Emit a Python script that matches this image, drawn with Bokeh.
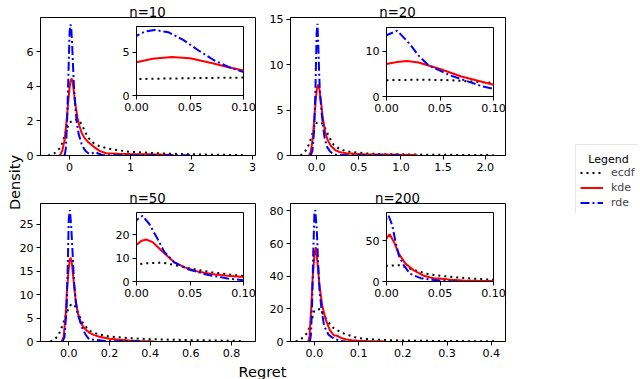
from math import pi
from bokeh.plotting import figure
from bokeh.models import Range1d, FixedTicker, Legend, LegendItem, Label, Column, PrintfTickFormatter
from bokeh.embed import file_html
from bokeh.resources import INLINE

# ---------------- data ----------------
panel_titles = ["n=10", "n=20", "n=50", "n=200"]
series_names = ["ecdf", "kde", "rde"]

# n = 10
ecdf10_x = [-0.35, -0.25, -0.15, -0.10, -0.05, 0.00, 0.05, 0.10, 0.15, 0.20, 0.30, 0.40, 0.50, 0.70, 1.00, 1.50, 2.00, 2.50, 2.85]
ecdf10_y = [0.0, 0.12, 0.45, 0.90, 1.45, 1.90, 2.00, 2.07, 2.05, 1.80, 1.05, 0.70, 0.52, 0.35, 0.21, 0.12, 0.07, 0.04, 0.02]
kde10_x = [-0.16, -0.12, -0.08, -0.05, -0.03, -0.015, 0.0, 0.015, 0.033, 0.05, 0.07, 0.085, 0.10, 0.13, 0.16, 0.20, 0.25, 0.30, 0.40, 0.50, 0.60, 0.80, 1.00, 1.30, 1.60, 1.72]
kde10_y = [0.0, 0.25, 0.9, 1.9, 2.7, 3.3, 3.85, 4.25, 4.45, 4.3, 3.75, 3.3, 2.88, 2.2, 1.75, 1.3, 1.0, 0.8, 0.5, 0.25, 0.13, 0.1, 0.08, 0.07, 0.05, 0.0]
rde10_x = [-0.08, -0.06, -0.04, -0.02, 0.0, 0.008, 0.017, 0.03, 0.044, 0.058, 0.072, 0.086, 0.10, 0.12, 0.15, 0.20, 0.25, 0.30, 0.36, 0.42, 0.48, 0.55, 1.00, 1.50, 2.00, 2.10]
rde10_y = [0.0, 0.4, 1.8, 4.3, 6.9, 7.4, 7.57, 7.3, 6.4, 5.2, 4.1, 3.3, 2.7, 1.9, 1.25, 0.65, 0.32, 0.15, 0.1, 0.2, 0.1, 0.02, 0.02, 0.01, 0.01, 0.0]

# n = 20
ecdf20_x = [-0.19, -0.15, -0.11, -0.07, -0.03, 0.0, 0.03, 0.06, 0.10, 0.15, 0.20, 0.28, 0.40, 0.60, 0.80, 1.00, 1.40, 1.80, 2.10]
ecdf20_y = [0.0, 0.3, 0.8, 1.8, 3.0, 3.6, 3.7, 3.6, 3.0, 2.0, 1.2, 0.65, 0.4, 0.22, 0.15, 0.12, 0.08, 0.06, 0.04]
kde20_x = [-0.09, -0.07, -0.05, -0.035, -0.02, -0.01, 0.0, 0.01, 0.019, 0.03, 0.05, 0.07, 0.10, 0.13, 0.17, 0.22, 0.28, 0.35, 0.45, 0.60, 0.80, 1.00, 1.15, 1.20]
kde20_y = [0.0, 0.4, 1.6, 3.2, 5.0, 6.2, 7.15, 7.6, 7.8, 7.5, 6.05, 4.4, 2.6, 1.7, 1.05, 0.6, 0.35, 0.25, 0.18, 0.12, 0.1, 0.08, 0.05, 0.0]
rde20_x = [-0.07, -0.05, -0.03, -0.015, 0.0, 0.01, 0.022, 0.03, 0.038, 0.044, 0.05, 0.06, 0.075, 0.09, 0.10, 0.126, 0.16, 0.20, 0.25, 0.40, 0.70, 1.00, 1.10]
rde20_y = [0.0, 0.5, 2.7, 7.0, 13.5, 14.5, 11.5, 9.0, 7.15, 6.3, 5.7, 4.6, 3.4, 2.2, 1.7, 0.9, 0.45, 0.15, 0.05, 0.03, 0.02, 0.02, 0.0]

# n = 50
ecdf50_x = [-0.09, -0.07, -0.05, -0.03, -0.015, 0.0, 0.01, 0.025, 0.04, 0.05, 0.07, 0.10, 0.14, 0.20, 0.30, 0.40, 0.50, 0.60, 0.70, 0.80, 0.86]
ecdf50_y = [0.0, 0.4, 1.4, 3.5, 5.5, 7.2, 7.8, 8.0, 6.6, 5.6, 3.9, 2.3, 1.6, 1.05, 0.7, 0.5, 0.38, 0.3, 0.22, 0.15, 0.1]
kde50_x = [-0.035, -0.025, -0.015, -0.008, 0.0, 0.005, 0.009, 0.015, 0.023, 0.035, 0.045, 0.057, 0.07, 0.085, 0.10, 0.123, 0.15, 0.20, 0.25, 0.30, 0.35, 0.40, 0.42]
kde50_y = [0.0, 1.0, 6.0, 11.5, 15.7, 17.4, 17.9, 16.8, 13.3, 8.3, 6.0, 4.3, 3.2, 2.5, 1.9, 1.4, 1.0, 0.6, 0.35, 0.2, 0.1, 0.05, 0.0]
rde50_x = [-0.03, -0.021, -0.011, -0.005, 0.0, 0.0056, 0.012, 0.0195, 0.026, 0.035, 0.047, 0.066, 0.085, 0.10, 0.14, 0.18, 0.25, 0.38, 0.40]
rde50_y = [0.0, 1.0, 6.7, 16.0, 26.2, 28.0, 24.5, 18.3, 12.6, 8.3, 5.4, 2.9, 1.3, 0.5, 0.3, 0.1, 0.05, 0.02, 0.0]

# n = 200
ecdf200_x = [-0.042, -0.03, -0.017, -0.009, -0.002, 0.0, 0.006, 0.013, 0.022, 0.029, 0.038, 0.047, 0.057, 0.066, 0.075, 0.084, 0.094, 0.10, 0.12, 0.15, 0.20, 0.25, 0.30, 0.35, 0.41]
ecdf200_y = [0.0, 1.5, 5.0, 10.0, 17.0, 19.0, 19.7, 19.8, 15.7, 12.8, 9.5, 7.4, 6.2, 5.0, 4.1, 3.3, 2.5, 2.1, 1.5, 1.0, 0.6, 0.4, 0.3, 0.2, 0.12]
kde200_x = [-0.014, -0.011, -0.0075, -0.004, 0.0, 0.003, 0.0068, 0.0115, 0.0177, 0.0255, 0.035, 0.041, 0.045, 0.049, 0.054, 0.06, 0.072, 0.085, 0.10, 0.12, 0.15, 0.16]
kde200_y = [0.0, 3.0, 19.0, 38.0, 52.9, 57.8, 48.8, 34.3, 21.9, 13.6, 7.0, 4.8, 3.6, 3.7, 3.2, 2.2, 1.2, 0.8, 0.5, 0.3, 0.1, 0.0]
rde200_x = [-0.01, -0.0075, -0.005, -0.0025, 0.0, 0.002, 0.0053, 0.0084, 0.0115, 0.016, 0.022, 0.032, 0.04, 0.05, 0.06, 0.07]
rde200_y = [0.0, 5.0, 25.0, 55.0, 78.0, 80.5, 69.0, 48.8, 32.0, 20.0, 9.5, 4.1, 2.5, 1.2, 0.4, 0.0]

# axis ranges, ticks and tick label formats
main_xranges = [(-0.475, 3.05), (-0.31, 2.24), (-0.139, 0.918), (-0.054, 0.432)]
main_ymax = [7.97, 15.2, 29.4, 84.5]
main_xticks = [[0, 1, 2, 3], [0.0, 0.5, 1.0, 1.5, 2.0], [0.0, 0.2, 0.4, 0.6, 0.8], [0.0, 0.1, 0.2, 0.3, 0.4]]
main_xfmt = ["%d", "%.1f", "%.1f", "%.1f"]
main_yticks = [[0, 2, 4, 6], [0, 5, 10, 15], [0, 5, 10, 15, 20, 25], [0, 20, 40, 60, 80]]
inset_xrange = (0.0, 0.1)
inset_xticks = [0.0, 0.05, 0.1]
inset_xfmt = "%.2f"
inset_yticks = [[0, 5], [0, 10], [0, 10, 20], [0, 50]]

data = [
    [(ecdf10_x, ecdf10_y), (kde10_x, kde10_y), (rde10_x, rde10_y)],
    [(ecdf20_x, ecdf20_y), (kde20_x, kde20_y), (rde20_x, rde20_y)],
    [(ecdf50_x, ecdf50_y), (kde50_x, kde50_y), (rde50_x, rde50_y)],
    [(ecdf200_x, ecdf200_y), (kde200_x, kde200_y), (rde200_x, rde200_y)],
]

# ---------------- styling ----------------
FONT = "DejaVu Sans"
TICK_FS = "11.1px"
LW = 2
line_styles = [
    dict(line_color="black", line_dash="2 4", line_width=LW),
    dict(line_color="red", line_dash="solid", line_width=LW),
    dict(line_color="blue", line_dash="9 3 2 3", line_width=LW),
]

# page geometry (screenshot pixels; absolute positions are relative to the page origin)
main_frames = [(40, 17), (290, 17), (40, 203), (290, 203)]
inset_frames = [(136, 26), (386, 27), (136, 212), (386, 212)]
title_baselines = [12.4, 12.4, 198.0, 198.0]
MAIN_W, MAIN_H = 215, 138
INS_W, INS_H = 107, 69


def place(fig, left, top):
    fig.frame_align = False
    fig.styles = {"position": "absolute", "left": f"{left}px", "top": f"{top}px"}


def style_axes(p, xticks, yticks, xfmt):
    p.xaxis.ticker = FixedTicker(ticks=xticks)
    p.yaxis.ticker = FixedTicker(ticks=yticks)
    p.xaxis.formatter = PrintfTickFormatter(format=xfmt)
    for ax in (p.xaxis[0], p.yaxis[0]):
        ax.major_tick_in = 0
        ax.major_tick_out = 4
        ax.minor_tick_line_color = None
        ax.major_tick_line_color = "black"
        ax.axis_line_color = "black"
        ax.major_label_text_font = FONT
        ax.major_label_text_font_size = TICK_FS
        ax.major_label_text_color = "black"
        ax.major_label_standoff = 3
    p.grid.visible = False
    p.outline_line_color = "black"
    p.outline_line_alpha = 1.0
    p.outline_line_width = 1
    p.border_fill_alpha = 0
    p.background_fill_color = "white"


def text_fig(text, left, top, w, h, x, y, size, angle=0.0):
    f = figure(frame_width=w, frame_height=h, x_range=Range1d(0, w), y_range=Range1d(h, 0),
               min_border_left=0, min_border_right=0, min_border_top=0, min_border_bottom=0,
               x_axis_type=None, y_axis_type=None, outline_line_color=None,
               output_backend="svg", toolbar_location=None)
    f.grid.visible = False
    f.background_fill_alpha = 0
    f.border_fill_alpha = 0
    f.add_layout(Label(x=x, y=y, text=text, text_align="center", text_baseline="alphabetic",
                       angle=angle, text_font=FONT, text_font_size=size, text_color="black"))
    place(f, left, top)
    return f


children = []

for i in range(4):
    # main panel
    p = figure(frame_width=MAIN_W, frame_height=MAIN_H,
               x_range=Range1d(*main_xranges[i]), y_range=Range1d(0, main_ymax[i]),
               min_border_left=30, min_border_right=16, min_border_top=4, min_border_bottom=26,
               output_backend="svg", toolbar_location=None)
    style_axes(p, main_xticks[i], main_yticks[i], main_xfmt[i])
    for (xs, ys), st in zip(data[i], line_styles):
        p.line(xs, ys, **st)
    place(p, main_frames[i][0] - 30, main_frames[i][1] - 4)
    children.append(p)

    # inset
    q = figure(frame_width=INS_W, frame_height=INS_H,
               x_range=Range1d(*inset_xrange), y_range=Range1d(0, main_ymax[i]),
               min_border_left=24, min_border_right=20, min_border_top=4, min_border_bottom=24,
               output_backend="svg", toolbar_location=None)
    style_axes(q, inset_xticks, inset_yticks[i], inset_xfmt)
    for (xs, ys), st in zip(data[i], line_styles):
        q.line(xs, ys, **st)
    place(q, inset_frames[i][0] - 24, inset_frames[i][1] - 4)
    children.append(q)

    # panel title (text box kept fully on the page)
    fx, fy = main_frames[i]
    tb = title_baselines[i]
    top = max(0.0, tb - 16)
    children.append(text_fig(panel_titles[i], int(fx + MAIN_W / 2 - 40), top, 80, 24, 40, tb - top, "13.3px"))

# shared axis labels
children.append(text_fig("Regret", 222, 349, 80, 30, 40, 22, "14.5px"))
children.append(text_fig("Density", 0, 137, 24, 90, 14, 45, "14.5px", angle=pi / 2))

# legend panel
leg = figure(frame_width=63, frame_height=69, x_range=Range1d(0, 1), y_range=Range1d(0, 1),
             min_border_left=0, min_border_right=0, min_border_top=0, min_border_bottom=0,
             x_axis_type=None, y_axis_type=None, outline_line_color=None,
             output_backend="svg", toolbar_location=None)
leg.grid.visible = False
leg.border_fill_alpha = 0
leg.background_fill_alpha = 0
items = []
for (xs, ys), st, name in zip(data[0], line_styles, series_names):
    r = leg.line(xs, ys, visible=False, **st)
    items.append(LegendItem(label=name, renderers=[r]))
legend = Legend(items=items, location="top_left", title=" ", margin=0, padding=4,
                spacing=2, label_height=13, glyph_height=13, glyph_width=23, label_standoff=8,
                title_standoff=4, border_line_color="#cccccc", border_line_width=1,
                background_fill_color="white", background_fill_alpha=0.8,
                label_text_font=FONT, label_text_font_size="11px", title_text_font=FONT,
                title_text_font_size="11px", title_text_font_style="normal")
leg.add_layout(legend)
place(leg, 575, 144)
children.append(leg)
# centred legend title
children.append(text_fig("Legend", 578, 143, 60, 28, 30, 16, "11px"))

layout = Column(children=children, width=632, height=371, sizing_mode="fixed")

open("out.html", "w").write(file_html(layout, INLINE))
